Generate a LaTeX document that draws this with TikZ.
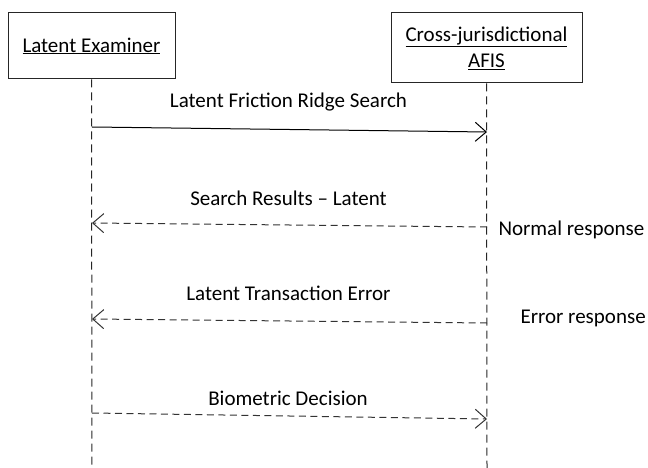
\documentclass[tikz,border=0pt]{standalone}
\usepackage{fontspec}
\setmainfont{Carlito}
\usetikzlibrary{arrows.meta,positioning}

\begin{document}
\begin{tikzpicture}[x=1pt, y=-1pt, line width=1pt, >={Straight Barb[length=11pt,width=19pt]},
    actor/.style={draw=black!85, rectangle, align=center, inner sep=0pt, font=\fontsize{21}{26}\selectfont},
    lifeline/.style={draw=black!85, dash pattern=on 8pt off 5pt},
    msg/.style={font=\fontsize{21}{25}\selectfont, anchor=base},
    note/.style={font=\fontsize{21}{25}\selectfont, anchor=base west, inner sep=0pt},
    call/.style={->, draw=black},
    reply/.style={->, draw=black!80, dash pattern=on 7pt off 4.5pt}]

    \useasboundingbox (0,0) rectangle (648,468);

    \node (exam) [actor, minimum width=167pt, minimum height=66pt] at (91.5,46) {\underline{Latent Examiner}};
    \node (afis) [actor, minimum width=191pt, minimum height=70pt] at (486.5,48) {\underline{Cross-jurisdictional}\\\underline{AFIS}};

    \coordinate (examend) at (92,468);
    \coordinate (afisend) at (487,468);
    \draw [lifeline] (exam.south) -- (examend);
    \draw [lifeline] (afis.south) -- (afisend);

    % message ends on the lifelines
    \coordinate (searchfrom) at (92,127);
    \coordinate (searchto) at (487,132);
    \coordinate (resultfrom) at (487,227);
    \coordinate (resultto) at (92,223);
    \coordinate (errorfrom) at (487,323);
    \coordinate (errorto) at (92,319);
    \coordinate (decisionfrom) at (92,413);
    \coordinate (decisionto) at (487,419);

    \node (searchlbl) [msg] at (288.5,108) {Latent Friction Ridge Search};
    \node (resultlbl) [msg] at (288.5,205) {Search Results – Latent};
    \node (errorlbl) [msg] at (288.5,300) {Latent Transaction Error};
    \node (decisionlbl) [msg] at (288,405) {Biometric Decision};

    \node (normal) [note] at (498,235) {Normal response};
    \node (errresp) [note] at (520,323) {Error response};

    \draw [call] (searchfrom) -- (searchto);
    \draw [reply] (resultfrom) -- (resultto);
    \draw [reply] (errorfrom) -- (errorto);
    \draw [reply] (decisionfrom) -- (decisionto);
\end{tikzpicture}
\end{document}
